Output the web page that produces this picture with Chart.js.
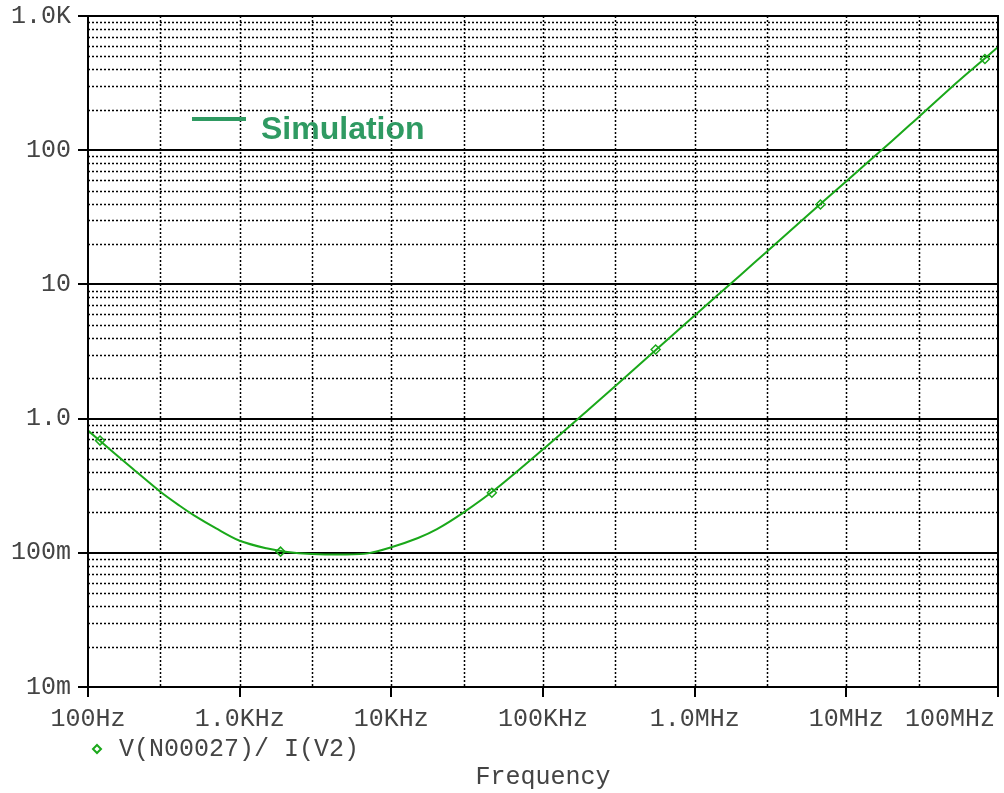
<!DOCTYPE html>
<html>
<head>
<meta charset="utf-8">
<script src="https://cdn.jsdelivr.net/npm/chart.js@4.4.1/dist/chart.umd.min.js"></script>
<style>
  html, body { margin: 0; padding: 0; background: #fff; }
  #wrap { width: 1004px; height: 793px; position: relative; }
</style>
</head>
<body>
<div id="wrap"><canvas id="impedanceChart"></canvas></div>
<script>
// Impedance sweep (Hz, ohms)
const freqHz = [100, 150, 200, 300, 400, 500, 700, 1e3, 1.5e3, 2e3, 3e3, 5e3, 7e3, 1e4, 1.5e4, 2e4, 3e4, 5e4,
    1e5, 2e5, 3e5, 5e5, 1e6, 2e6, 3e6, 5e6, 1e7, 2e7, 3e7, 5e7, 7e7, 1e8];
const impedance = [0.814, 0.55, 0.418, 0.285, 0.225, 0.19, 0.152, 0.123, 0.108, 0.102, 0.098, 0.097, 0.099, 0.11, 0.129, 0.15, 0.2, 0.305,
    0.59, 1.17, 1.75, 2.93, 5.87, 11.7, 17.6, 29.4, 58.8, 117, 177, 298, 415, 587];

// PSpice trace symbols
const markerFreq = [120, 1860, 46000, 553000, 6.75e6, 8.2e7];
const markerZ = [0.686, 0.102, 0.28, 3.27, 39.4, 478];

const xTickValues = [1e2, 1e3, 1e4, 1e5, 1e6, 1e7, 1e8];
const xTickLabels = ['100Hz', '1.0KHz', '10KHz', '100KHz', '1.0MHz', '10MHz', '100MHz'];
const yTickValues = [1e-2, 1e-1, 1, 10, 100, 1000];
const yTickLabels = ['10m', '100m', '1.0', '10', '100', '1.0K'];

const traceName = 'V(N00027)/ I(V2)';
const xTitle = 'Frequency';
const noteText = 'Simulation';

const traceColor = '#1aa81a';
const noteColor = '#2f9a62';
const monoFont = '25px "Liberation Mono", monospace';

const plotFrame = {
    id: 'plotFrame',
    beforeDatasetsDraw(chart) {
        const ctx = chart.ctx;
        const a = chart.chartArea;
        const x = chart.scales.x;
        const y = chart.scales.y;
        ctx.save();
        ctx.strokeStyle = '#000';

        // dotted minor lines
        ctx.lineWidth = 1.5;
        ctx.setLineDash([2, 2]);
        for (let k = -2; k < 3; k++) {
            for (let m = 2; m <= 9; m++) {
                const py = Math.round(y.getPixelForValue(m * Math.pow(10, k))) + 0.5;
                ctx.beginPath();
                ctx.moveTo(a.left, py);
                ctx.lineTo(a.right, py);
                ctx.stroke();
            }
        }
        const vLines = [];
        xTickValues.forEach((v, i) => {
            if (i > 0 && i < xTickValues.length - 1) vLines.push(v);
            if (i < xTickValues.length - 1) vLines.push(v * 3);
        });
        vLines.forEach(v => {
            const px = Math.round(x.getPixelForValue(v)) + 0.5;
            ctx.beginPath();
            ctx.moveTo(px, a.top);
            ctx.lineTo(px, a.bottom);
            ctx.stroke();
        });

        // solid decade lines with left ticks
        ctx.setLineDash([]);
        ctx.lineWidth = 2;
        yTickValues.forEach(v => {
            const py = Math.round(y.getPixelForValue(v));
            ctx.beginPath();
            ctx.moveTo(a.left - 10, py);
            ctx.lineTo(a.right, py);
            ctx.stroke();
        });
        ctx.restore();
    },
    afterDraw(chart) {
        const ctx = chart.ctx;
        const a = chart.chartArea;
        const x = chart.scales.x;
        const y = chart.scales.y;
        ctx.save();

        // frame
        ctx.strokeStyle = '#000';
        ctx.lineWidth = 2;
        ctx.strokeRect(a.left, a.top, a.right - a.left, a.bottom - a.top);
        xTickValues.forEach(v => {
            const px = Math.round(x.getPixelForValue(v));
            ctx.beginPath();
            ctx.moveTo(px, a.bottom);
            ctx.lineTo(px, a.bottom + 10);
            ctx.stroke();
        });

        // tick labels
        ctx.font = monoFont;
        ctx.fillStyle = '#444';
        ctx.textBaseline = 'middle';
        ctx.textAlign = 'right';
        yTickValues.forEach((v, i) => {
            ctx.fillText(yTickLabels[i], a.left - 17, y.getPixelForValue(v));
        });
        xTickValues.forEach((v, i) => {
            const last = i === xTickValues.length - 1;
            ctx.textAlign = last ? 'right' : 'center';
            const px = last ? a.right - 3 : x.getPixelForValue(v);
            ctx.fillText(xTickLabels[i], px, a.bottom + 32);
        });

        // trace legend
        const lx = 97, ly = 749;
        ctx.strokeStyle = traceColor;
        ctx.lineWidth = 2;
        ctx.beginPath();
        ctx.moveTo(lx, ly - 4);
        ctx.lineTo(lx + 4, ly);
        ctx.lineTo(lx, ly + 4);
        ctx.lineTo(lx - 4, ly);
        ctx.closePath();
        ctx.stroke();
        ctx.textAlign = 'left';
        ctx.fillText(traceName, 119, ly);

        ctx.textAlign = 'center';
        ctx.fillText(xTitle, 543, 777);

        // annotation
        ctx.fillStyle = noteColor;
        ctx.fillRect(192, 117, 54, 4);
        ctx.font = 'bold 32px "Liberation Sans", Arial, sans-serif';
        ctx.textAlign = 'left';
        ctx.fillText(noteText, 261, 130);
        ctx.restore();
    }
};

new Chart(document.getElementById('impedanceChart'), {
    type: 'line',
    data: {
        datasets: [
            {
                label: traceName,
                data: freqHz.map((f, i) => ({ x: f, y: impedance[i] })),
                borderColor: traceColor,
                borderWidth: 2,
                pointRadius: 0,
                tension: 0.3,
                fill: false
            },
            {
                label: 'markers',
                data: markerFreq.map((f, i) => ({ x: f, y: markerZ[i] })),
                showLine: false,
                pointStyle: 'rectRot',
                pointRadius: 4.5,
                pointBorderWidth: 1.5,
                pointBorderColor: traceColor,
                pointBackgroundColor: 'rgba(0,0,0,0)'
            }
        ]
    },
    options: {
        responsive: true,
        maintainAspectRatio: false,
        animation: false,
        events: [],
        layout: {
            padding: { left: 88, top: 16, right: 4, bottom: 106 }
        },
        scales: {
            x: { type: 'logarithmic', min: 100, max: 1e8, display: false },
            y: { type: 'logarithmic', min: 0.01, max: 1000, display: false }
        },
        plugins: {
            legend: { display: false },
            tooltip: { enabled: false }
        }
    },
    plugins: [plotFrame]
});
</script>
</body>
</html>
